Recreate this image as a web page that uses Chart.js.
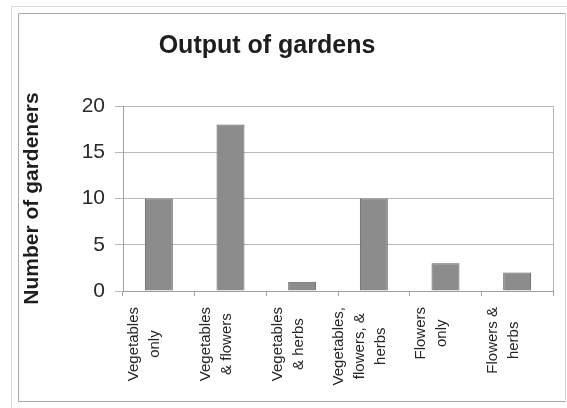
<!DOCTYPE html>
<html>
<head>
<meta charset="utf-8">
<script src="https://cdn.jsdelivr.net/npm/chart.js@4/dist/chart.umd.min.js"></script>
<style>
  html, body { margin: 0; padding: 0; background: #ffffff; }
  #wrap { position: relative; width: 567px; height: 408px; }
</style>
</head>
<body>
<div id="wrap"><canvas id="c" width="567" height="408"></canvas></div>
<script>
// Garden survey: how many gardeners grow each combination
const chartTitle = 'Output of gardens';
const categories = [
  ['Vegetables', 'only'],
  ['Vegetables', '& flowers'],
  ['Vegetables', '& herbs'],
  ['Vegetables,', 'flowers, &', 'herbs'],
  ['Flowers', 'only'],
  ['Flowers &', 'herbs']
];
const gardeners = [10, 18, 1, 10, 3, 2];
const yTicks = [0, 5, 10, 15, 20];

const FONT = '"Liberation Sans", Arial, Helvetica, sans-serif';

// Border frames around the whole figure, the heading and the plot's right edge
const framePlugin = {
  id: 'frames',
  beforeDraw(chart) {
    const { ctx, width, height } = chart;
    ctx.save();
    ctx.fillStyle = '#ffffff';
    ctx.fillRect(0, 0, width, height);
    ctx.lineWidth = 1;
    ctx.strokeStyle = '#dcdcdc';
    ctx.strokeRect(11.5, 6.5, width, height);
    ctx.strokeStyle = '#a8a8a8';
    ctx.beginPath();
    ctx.moveTo(width - 1.5, 13.5);
    ctx.lineTo(18.5, 13.5);
    ctx.lineTo(18.5, height - 6.5);
    ctx.lineTo(width - 1.5, height - 6.5);
    ctx.stroke();
    ctx.strokeStyle = '#d0d0d0';
    ctx.beginPath();
    ctx.moveTo(width - 1.5, 13.5);
    ctx.lineTo(width - 1.5, height - 6.5);
    ctx.stroke();

    ctx.font = 'bold 25px ' + FONT;
    ctx.fillStyle = '#1e1e1e';
    ctx.textAlign = 'center';
    ctx.textBaseline = 'middle';
    ctx.fillText(chartTitle, 267, 46);
    ctx.restore();
  },
  afterDatasetsDraw(chart) {
    const { ctx, chartArea } = chart;
    ctx.save();
    ctx.strokeStyle = '#b8b8b8';
    ctx.lineWidth = 1;
    ctx.beginPath();
    ctx.moveTo(Math.round(chartArea.right) + 0.5, chartArea.top);
    ctx.lineTo(Math.round(chartArea.right) + 0.5, chartArea.bottom);
    ctx.stroke();
    ctx.restore();
  }
};

// Category names, rotated and centred line by line under each bar
const xLabelPlugin = {
  id: 'xLabels',
  afterDraw(chart) {
    const { ctx } = chart;
    const xs = chart.scales.x;
    ctx.save();
    ctx.font = '15px ' + FONT;
    ctx.fillStyle = '#262626';
    ctx.textAlign = 'center';
    ctx.textBaseline = 'middle';
    const lh = 21;
    categories.forEach((lines, i) => {
      const cx = xs.getPixelForValue(i) - 14;
      const maxW = Math.max(...lines.map(l => ctx.measureText(l).width));
      const cy = xs.top + 16 + maxW / 2;
      ctx.save();
      ctx.translate(cx, cy);
      ctx.rotate(-Math.PI / 2);
      lines.forEach((l, j) => ctx.fillText(l, 0, (j - (lines.length - 1) / 2) * lh));
      ctx.restore();
    });
    ctx.restore();
  }
};

new Chart(document.getElementById('c'), {
  type: 'bar',
  data: {
    labels: categories,
    datasets: [{
      data: gardeners,
      backgroundColor: '#8c8c8c',
      borderColor: '#5c5c5c',
      borderWidth: 1,
      categoryPercentage: 1,
      barPercentage: 0.39
    }]
  },
  options: {
    responsive: false,
    animation: false,
    devicePixelRatio: 1,
    layout: { padding: { left: 19, right: 14, top: 106, bottom: 0 } },
    plugins: {
      legend: { display: false },
      tooltip: { enabled: false },
      title: { display: false }
    },
    scales: {
      x: {
        grid: {
          display: true,
          offset: true,
          drawOnChartArea: false,
          drawTicks: true,
          tickLength: 5,
          color: '#a0a0a0'
        },
        border: { display: true, color: '#a0a0a0' },
        ticks: { display: false },
        afterFit(scale) { scale.height = 117; }
      },
      y: {
        min: 0,
        max: 20,
        afterBuildTicks(scale) { scale.ticks = yTicks.map(v => ({ value: v })); },
        grid: {
          color: '#b8b8b8',
          drawTicks: true,
          tickLength: 8
        },
        border: { display: true, color: '#a0a0a0' },
        ticks: {
          color: '#2a2a2a',
          padding: 10,
          font: { family: FONT, size: 21 }
        },
        title: {
          display: true,
          text: 'Number of gardeners',
          color: '#1e1e1e',
          font: { family: FONT, size: 21, weight: 'bold' },
          padding: { top: 1, bottom: 0 }
        },
        afterFit(scale) { scale.width = 104; }
      }
    }
  },
  plugins: [framePlugin, xLabelPlugin]
});
</script>
</body>
</html>
